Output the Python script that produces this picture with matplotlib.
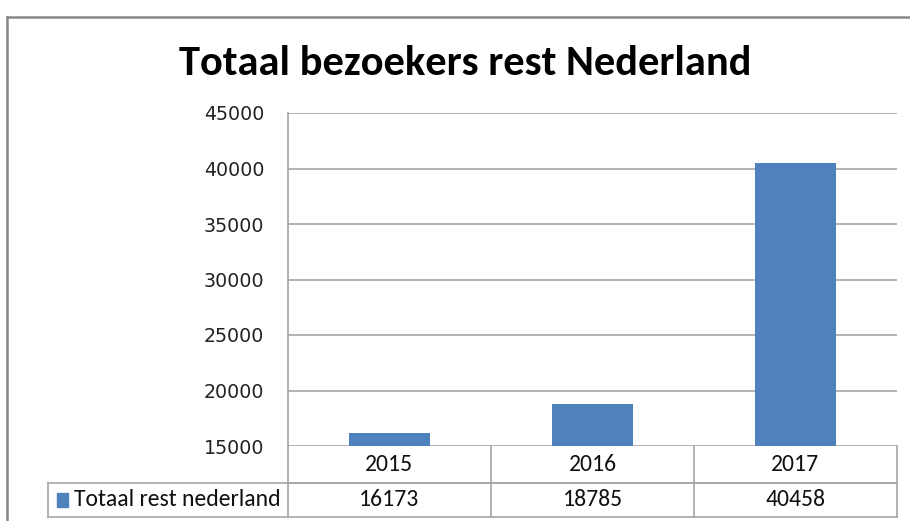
import matplotlib.pyplot as plt
from matplotlib.patches import Rectangle
from matplotlib.lines import Line2D

# data
years = ["2015", "2016", "2017"]
visitors = [16173, 18785, 40458]
series_name = "Totaal rest nederland"
title = "Totaal bezoekers rest Nederland"
yticks = [15000, 20000, 25000, 30000, 35000, 40000, 45000]

W, H = 910, 521
blue = "#4f81bd"
grid = "#a6a6a6"
calibri = ["Carlito", "DejaVu Sans"]

fig = plt.figure(figsize=(W / 100, H / 100), dpi=100)

# outer chart border
fig.add_artist(Line2D([7 / W, 7 / W], [0, 1 - 17 / H], color="#888888", lw=1.8))
fig.add_artist(Line2D([7 / W, 1], [1 - 17 / H, 1 - 17 / H], color="#888888", lw=1.8))

x0, x1, y0, y1 = 288, 897, 446, 113
ax = fig.add_axes([x0 / W, 1 - y0 / H, (x1 - x0) / W, (y0 - y1) / H])

xs = range(len(years))
ax.bar(xs, [v - yticks[0] for v in visitors], bottom=yticks[0], width=0.4,
       color=blue, zorder=3)
ax.set_xlim(-0.5, len(years) - 0.5)
ax.set_ylim(yticks[0], yticks[-1])
ax.set_yticks(yticks)
ax.set_yticklabels([str(t) for t in yticks], fontsize=13.7, color="#222222")
ax.tick_params(axis="y", length=0, pad=17)
ax.tick_params(axis="x", length=0, labelbottom=False)
ax.grid(axis="y", color=grid, lw=1.2, zorder=0)
for s in ["top", "right", "bottom"]:
    ax.spines[s].set_visible(False)
ax.spines["left"].set_color(grid)
ax.spines["left"].set_linewidth(1.2)

fig.text(465 / W, 1 - 75 / H, title, fontsize=30.6, fontweight="bold",
         family=calibri, ha="center", va="baseline")

# data table below the axis
ph = y0 - y1
r1 = -(483 - y0) / ph
r2 = -(517 - y0) / ph
left = (48 - x0) / (x1 - x0)
n = len(years)
tkw = dict(transform=ax.transAxes, clip_on=False, color=grid, lw=1.2)
ax.add_line(Line2D([0, 1], [r1, r1], **tkw))
ax.add_line(Line2D([left, 1], [r1, r1], **tkw))
ax.add_line(Line2D([left, 1], [r2, r2], **tkw))
ax.add_line(Line2D([left, left], [r1, r2], **tkw))
ax.add_line(Line2D([0, 0], [0, r2], **tkw))
for i in range(n):
    xe = (i + 1) / n
    ax.add_line(Line2D([xe, xe], [0, r2], **tkw))
for i, (yr, v) in enumerate(zip(years, visitors)):
    xc = (i + 0.5) / n
    ax.text(xc, r1 / 2, yr, transform=ax.transAxes, ha="center", va="center",
            fontsize=17, family=calibri, color="#111111")
    ax.text(xc, (r1 + r2) / 2, str(v), transform=ax.transAxes, ha="center",
            va="center", fontsize=17, family=calibri, color="#111111")
ax.add_patch(Rectangle(((57 - x0) / (x1 - x0), (r1 + r2) / 2 - 7 / ph),
                       11 / (x1 - x0), 14 / ph, transform=ax.transAxes,
                       clip_on=False, color=blue))
ax.text((74 - x0) / (x1 - x0), (r1 + r2) / 2, series_name, transform=ax.transAxes,
        ha="left", va="center", fontsize=17, family=calibri, color="#111111")

fig.savefig("out.png", dpi=100)
